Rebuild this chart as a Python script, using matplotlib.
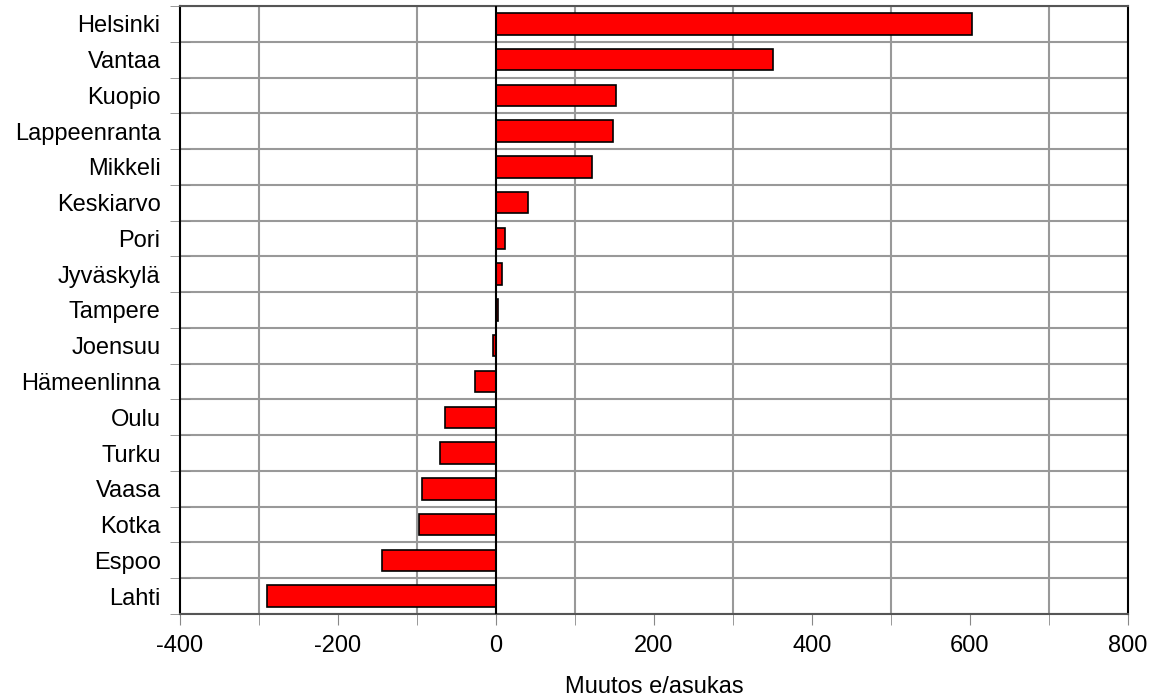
import numpy as np
import matplotlib.pyplot as plt

plt.rcParams['font.family'] = ['Liberation Sans', 'DejaVu Sans']
fontsize = 17

cities = ["Helsinki", "Vantaa", "Kuopio", "Lappeenranta", "Mikkeli", "Keskiarvo",
          "Pori", "Jyväskylä", "Tampere", "Joensuu", "Hämeenlinna", "Oulu",
          "Turku", "Vaasa", "Kotka", "Espoo", "Lahti"]
values = [603, 351, 152, 148, 122, 41, 12, 8, 2, -4, -27, -65, -71, -94, -97, -144, -290]

xticks = [-400, -200, 0, 200, 400, 600, 800]

fig = plt.figure(figsize=(11.53, 6.97), dpi=100)
ax = fig.add_axes([0.1561, 0.1191, 0.8222, 0.8723])

n = len(cities)
y = np.arange(n)[::-1]
ax.barh(y, values, height=0.6, color='#ff0000', edgecolor='black', linewidth=1.2, zorder=3)
ax.axvline(0, color='black', linewidth=1.5, zorder=4)

ax.set_xlim(-400, 800)
ax.set_ylim(-0.5, n - 0.5)

ax.set_xticks(xticks)
ax.set_xticks(np.arange(-400, 801, 100), minor=True)
ax.set_xticklabels([str(t) for t in xticks], fontsize=fontsize)
ax.tick_params(axis='x', which='both', direction='out', length=8, color='#888888', pad=7)

ax.set_yticks(y)
ax.set_yticklabels(cities, fontsize=fontsize)
ax.set_yticks(np.arange(-0.5, n, 1), minor=True)
ax.tick_params(axis='y', which='major', length=0, pad=14)
ax.tick_params(axis='y', which='minor', direction='inout', length=15, color='#888888')

ax.grid(True, which='minor', axis='both', color='#999999', linewidth=1.5, zorder=0)
ax.set_axisbelow(True)

for side in ['left', 'right']:
    ax.spines[side].set_color('black')
    ax.spines[side].set_linewidth(1.5)
for side in ['top', 'bottom']:
    ax.spines[side].set_color('#555555')
    ax.spines[side].set_linewidth(1.5)

ax.set_xlabel("Muutos e/asukas", fontsize=fontsize, labelpad=14)

plt.savefig("out.png", dpi=100)
